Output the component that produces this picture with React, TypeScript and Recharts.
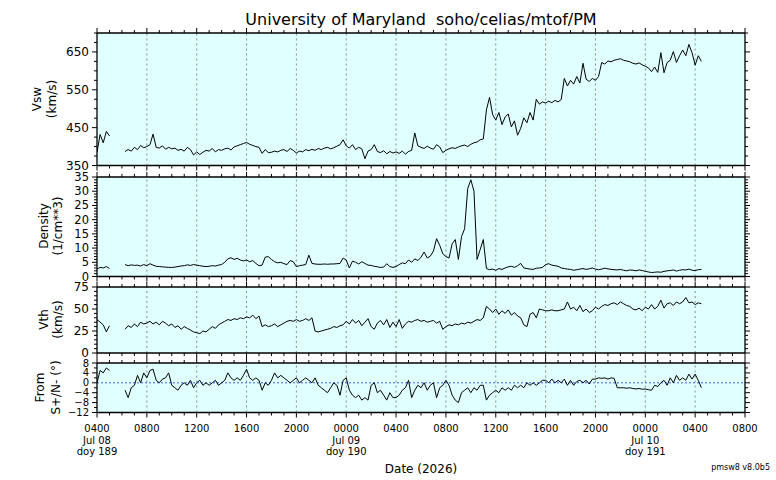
import React from 'react';
import { LineChart, Line, XAxis, YAxis, CartesianGrid, ReferenceLine } from 'recharts';

// Hours since 0400 Jul 08, sampled every 15 minutes (row index * 0.25)
// Each line of the arrays below is one hour (4 samples).

const VSW = [
  385, 432, 410, 440,
  428, null, null, null,
  null, 387, 392, 388,
  398, 392, 403, 397,
  400, 405, 433, 398,
  396, 402, 393, 398,
  394, 396, 390, 393,
  388, 398, 392, 378,
  386, 379, 385, 390,
  388, 395, 386, 392,
  390, 394, 396, 391,
  399, 402, 405, 408,
  411, 406, 403, 400,
  398, 382, 392, 384,
  385, 388, 386, 390,
  392, 387, 395, 390,
  383, 388, 386, 392,
  389, 393, 390, 395,
  392, 396, 398, 394,
  397, 401, 405, 418,
  402, 396, 405, 392,
  398, 394, 368, 388,
  392, 405, 387, 384,
  389, 381, 387, 383,
  386, 382, 388, 380,
  387, 390, 436, 402,
  398, 395, 401, 396,
  393, 405, 399, 384,
  390, 394, 397, 395,
  399, 402, 404, 400,
  406, 410, 412, 418,
  420, 497, 530, 484,
  470, 490, 458, 478,
  486, 452, 468, 430,
  448, 476, 463, 490,
  470, 525, 512, 518,
  515, 520, 516, 522,
  518, 524, 580, 560,
  575, 565, 585, 568,
  620, 578, 572, 580,
  575, 585, 622, 618,
  626, 624, 628, 630,
  632, 628, 626, 624,
  620, 618, 621, 616,
  612, 608, 598, 610,
  596, 648, 595, 622,
  628, 651, 622, 640,
  655, 640, 670, 648,
  615, 640, 625,
];

const DENSITY = [
  2.6, 3.2, 3.0, 3.5,
  2.8, null, null, null,
  null, 4.2, 3.8, 4.1,
  3.9, 4.0, 3.7, 4.2,
  3.8, 4.5, 4.0, 3.6,
  3.5, 3.4, 3.3, 3.2,
  3.2, 3.3, 3.5, 3.7,
  3.8, 4.1, 3.9, 4.2,
  4.0, 3.8, 3.6, 3.5,
  3.6, 3.8, 3.7, 4.0,
  4.2, 5.0, 6.2, 6.6,
  6.0, 6.4, 5.8, 5.5,
  5.8, 5.2, 5.6, 4.6,
  3.8, 4.0, 6.8, 7.0,
  6.0, 5.2, 4.8, 5.0,
  4.5, 4.2, 5.6, 5.2,
  3.5, 3.8, 4.0, 4.2,
  7.5, 4.6, 4.4, 4.3,
  4.3, 4.4, 4.3, 4.4,
  4.4, 4.5, 4.6, 6.5,
  5.8, 3.0, 5.4, 5.0,
  4.4, 5.2, 4.6, 4.0,
  3.9, 3.6, 3.4, 3.2,
  3.3, 4.5, 3.5, 3.2,
  3.5, 4.2, 4.8, 4.5,
  5.8, 5.0, 6.2, 5.6,
  6.8, 8.6, 6.5, 7.2,
  9.0, 13.3, 11.0, 8.0,
  7.0, 6.5, 11.5, 13.0,
  6.0, 14.0, 16.8, 31.0,
  34.0, 30.0, 6.0, 9.5,
  13.0, 2.8, 2.4, 2.6,
  2.2, 2.8, 2.5, 3.0,
  3.4, 3.6, 3.2, 3.8,
  4.6, 3.0, 2.8, 2.6,
  2.5, 2.9, 3.0, 3.2,
  4.2, 4.5, 4.0, 3.8,
  3.6, 3.0, 2.8, 2.6,
  2.5, 2.2, 2.4, 2.6,
  2.8, 2.5, 2.7, 3.0,
  2.6, 2.4, 2.6, 2.9,
  2.7, 2.5, 2.4, 2.3,
  2.5, 2.2, 2.0, 2.3,
  2.2, 2.0, 2.3, 2.1,
  1.8, 1.6, 1.4, 1.5,
  1.6, 1.5, 1.8, 2.0,
  2.1, 2.3, 1.9, 2.2,
  2.4, 2.3, 2.6, 2.2,
  2.1, 2.4, 2.5,
];

const VTH = [
  38, 35, 32, 24,
  31, null, null, null,
  null, 27, 31, 29,
  33, 30, 35, 33,
  34, 36, 33, 35,
  32, 36, 34, 31,
  33, 29, 31, 27,
  30, 28, 26, 24,
  23, 22, 25, 24,
  27, 30, 28, 32,
  34, 36, 38, 37,
  39, 38, 40, 39,
  41, 40, 43, 39,
  42, 30, 32, 30,
  31, 33, 30, 32,
  34, 36, 37, 36,
  38, 36, 37, 39,
  37, 40, 25, 24,
  25, 26, 27, 28,
  30, 29, 31, 32,
  36, 33, 38, 34,
  37, 31, 35, 39,
  30, 27, 34, 37,
  32, 38, 29, 35,
  30, 38, 28, 33,
  36, 35, 37, 38,
  36, 37, 35, 36,
  37, 34, 36, 27,
  30, 32, 31, 33,
  32, 34, 33, 35,
  34, 36, 38, 37,
  40, 53, 50, 46,
  50, 44, 48, 45,
  49, 43, 46, 42,
  40, 32, 30, 44,
  46, 40, 50, 49,
  48, 48, 49, 48,
  48, 49, 50, 58,
  50, 52, 48, 54,
  47, 50, 46, 48,
  52, 50, 53, 55,
  54, 56, 57, 55,
  58, 56, 54, 53,
  50, 49, 51, 48,
  52, 50, 55, 50,
  53, 60, 51, 56,
  57, 54, 58, 56,
  58, 63, 57, 58,
  55, 57, 56,
];

const FROM = [
  0, 5, 4, 6,
  5, null, null, null,
  null, -3, -6, -2,
  -1, 3, 0, 4,
  2, 5, 5.5, 1,
  0, 1.5, 2, 4,
  -1, -2, -3, -1,
  0, -1, 1, -2,
  0, 1, -1, 0,
  -1, 0, 1, -1,
  0, 1, 4, 2,
  1, 2, 1, 3,
  5.5, 2, 1, 2,
  1, -3, 0, -1,
  1, 4, 2, 3,
  2, 1, 0, 1,
  2, 0, 1, 2,
  1, 0, 2, -1,
  -2, -3, -4, -2,
  0, -1, -5, 1,
  2, -3, -5, -6,
  -5, -7, -6, -7,
  -1, 0, -4, -3,
  -5, -7, -4, -6,
  -6, -5, -3, -2,
  1, -6, -3, -1,
  -2, 0, -3, -1,
  0, -6, -2, -1,
  1, -1, -5, -7,
  -8, -4, -3, -2,
  -4, -2, -3, -1,
  -1, -7, -5, -4,
  -3, -4, -2, -3,
  -2, -3, -1, -2,
  -1, -2, 0, -1,
  0, -1, 0, 1,
  1, 0, 1.5, 0,
  1, 0, 1.5, -1,
  1, -1, 0.5, 1,
  0, 1, -0.5, 1.5,
  1.5, 2, 1.8, 2,
  1.5, 2, 1.8, -2,
  -2, -2, -2.2, -2,
  -2.3, -2.5, -2.3, -2.6,
  -2.5, -2.8, -3, -1,
  -1.5, 0, 1, -1,
  2, 0, 3, 1,
  2, 1, 3.5, 1.5,
  3.5, 1, -2,
];

// x axis: hours since 0400 Jul 08
const X_MAJOR = [0, 4, 8, 12, 16, 20, 24, 28, 32, 36, 40, 44, 48, 52];
const X_LABELS = ['0400', '0800', '1200', '1600', '2000', '0000', '0400', '0800', '1200', '1600', '2000', '0000', '0400', '0800'];
const DATE_TICKS = [0, 20, 44];
const DATE_LINES = [['Jul 08', 'doy 189'], ['Jul 09', 'doy 190'], ['Jul 10', 'doy 191']];
const GRID_HOURS = [4, 8, 12, 16, 20, 24, 28, 32, 36, 40, 44, 48];

const ROWS = VSW.map((v, i) => ({
  t: i * 0.25,
  vsw: v,
  dens: DENSITY[i],
  vth: VTH[i],
  from: FROM[i],
}));

const FONT = '"DejaVu Sans", Verdana, sans-serif';
const W = 776;
const LEFT = 97;
const RIGHT = 745;
const PAD = 8;
const BG = '#e0ffff';
const FRAME = { stroke: '#000', strokeWidth: 1.3 };
const HOUR_TICKS = Array.from({ length: 53 }, (_, i) => i);

const steps = (min: number, max: number, step: number) => {
  const out: number[] = [];
  for (let v = min; v <= max + 1e-9; v += step) out.push(v);
  return out;
};

const fmt = (v: number) => (v < 0 ? '\u2212' + Math.abs(v) : String(v));

interface PanelProps {
  dataKey: string;
  top: number;
  height: number;
  domain: [number, number];
  yTicks: number[];
  yLabels: number[];
  labelSize?: number;
  zeroLine?: boolean;
  bottomLabels?: boolean;
}

const Panel: React.FC<PanelProps> = ({ dataKey, top, height, domain, yTicks, yLabels, labelSize = 12, zeroLine, bottomLabels }) => {
  const bottomPad = bottomLabels ? 62 : PAD;

  const xTopTick = (props: any) => {
    const { x, y, payload } = props;
    const len = payload.value % 4 === 0 ? 5 : 3;
    return <line x1={x} x2={x} y1={y} y2={y - len} stroke="#000" strokeWidth={1} />;
  };

  const xBottomTick = (props: any) => {
    const { x, y, payload } = props;
    const major = payload.value % 4 === 0;
    const len = major ? 5 : 3;
    const li = X_MAJOR.indexOf(payload.value);
    const di = DATE_TICKS.indexOf(payload.value);
    return (
      <g>
        <line x1={x} x2={x} y1={y} y2={y + len} stroke="#000" strokeWidth={1} />
        {bottomLabels && li >= 0 && (
          <text x={x} y={y + 16} textAnchor="middle" dominantBaseline="central" fontSize={10} fontFamily={FONT} fill="#000">
            {X_LABELS[li]}
          </text>
        )}
        {bottomLabels && di >= 0 && DATE_LINES[di].map((s, k) => (
          <text key={k} x={x} y={y + 27.5 + k * 11.6} textAnchor="middle" dominantBaseline="central" fontSize={10} fontFamily={FONT} fill="#000">
            {s}
          </text>
        ))}
      </g>
    );
  };

  const yLeftTick = (props: any) => {
    const { x, y, payload } = props;
    const labeled = yLabels.includes(payload.value);
    const len = labeled ? 5 : 3;
    return (
      <g>
        <line x1={x} x2={x - len} y1={y} y2={y} stroke="#000" strokeWidth={1} />
        {labeled && (
          <text x={x - 8} y={y} textAnchor="end" dominantBaseline="central" fontSize={labelSize} fontFamily={FONT} fill="#000">
            {fmt(payload.value)}
          </text>
        )}
      </g>
    );
  };

  const yRightTick = (props: any) => {
    const { x, y, payload } = props;
    const len = yLabels.includes(payload.value) ? 5 : 3;
    return <line x1={x} x2={x + len} y1={y} y2={y} stroke="#000" strokeWidth={1} />;
  };

  return (
    <div style={{ position: 'absolute', left: 0, top: top - PAD }}>
      <LineChart
        width={W}
        height={height + PAD + bottomPad}
        data={ROWS}
        margin={{ top: 0, right: W - RIGHT - 6, bottom: 0, left: LEFT - 60 }}
      >
        <CartesianGrid fill={BG} horizontal={false} vertical={false} stroke="none" />
        <XAxis
          type="number"
          dataKey="t"
          domain={[0, 52]}
          ticks={HOUR_TICKS}
          interval={0}
          height={bottomPad}
          tickSize={0}
          tickMargin={0}
          tickLine={false}
          axisLine={FRAME}
          tick={xBottomTick}
          allowDataOverflow
        />
        <XAxis
          xAxisId="top"
          orientation="top"
          type="number"
          dataKey="t"
          domain={[0, 52]}
          ticks={HOUR_TICKS}
          interval={0}
          height={PAD}
          tickSize={0}
          tickMargin={0}
          tickLine={false}
          axisLine={FRAME}
          tick={xTopTick}
          allowDataOverflow
        />
        <YAxis
          type="number"
          domain={domain}
          ticks={yTicks}
          interval={0}
          width={60}
          tickSize={0}
          tickMargin={0}
          tickLine={false}
          axisLine={FRAME}
          tick={yLeftTick}
          allowDataOverflow
        />
        <YAxis
          yAxisId="right"
          orientation="right"
          type="number"
          domain={domain}
          ticks={yTicks}
          interval={0}
          width={6}
          tickSize={0}
          tickMargin={0}
          tickLine={false}
          axisLine={FRAME}
          tick={yRightTick}
          allowDataOverflow
        />
        {GRID_HOURS.map((h) => (
          <ReferenceLine key={h} x={h} stroke="#808080" strokeDasharray="2 3" strokeWidth={0.9} />
        ))}
        {zeroLine && <ReferenceLine y={0} stroke="#4060e8" strokeDasharray="2 2" strokeWidth={1} />}
        <Line
          type="linear"
          dataKey={dataKey}
          stroke="#000"
          strokeWidth={1}
          dot={false}
          activeDot={false}
          connectNulls={false}
          isAnimationActive={false}
        />
      </LineChart>
    </div>
  );
};

const AxisTitle: React.FC<{ x1: number; x2: number; y: number; lines: string[] }> = ({ x1, x2, y, lines }) => (
  <>
    {lines.map((s, k) => {
      const x = k === 0 ? x1 : x2;
      return (
        <text
          key={k}
          x={x}
          y={y}
          transform={`rotate(-90 ${x} ${y})`}
          textAnchor="middle"
          dominantBaseline="central"
          fontSize={12}
          fontFamily={FONT}
          fill="#000"
        >
          {s}
        </text>
      );
    })}
  </>
);

export default function App() {
  return (
    <div style={{ position: 'absolute', left: 0, top: 0, width: W, height: 480, background: '#fff', fontFamily: FONT }}>
      <Panel dataKey="vsw" top={33} height={132.5} domain={[350, 700]} yTicks={steps(350, 700, 25)} yLabels={[350, 450, 550, 650]} />
      <Panel dataKey="dens" top={176.5} height={99.5} domain={[0, 35]} yTicks={steps(0, 35, 1)} yLabels={[0, 5, 10, 15, 20, 25, 30, 35]} labelSize={11.5} />
      <Panel dataKey="vth" top={286.5} height={66} domain={[0, 75]} yTicks={steps(0, 75, 5)} yLabels={[0, 25, 50, 75]} />
      <Panel dataKey="from" top={363} height={49.5} domain={[-12, 8]} yTicks={steps(-12, 8, 2)} yLabels={[-12, -8, -4, 0, 4, 8]} labelSize={10} zeroLine bottomLabels />
      <svg width={W} height={480} style={{ position: 'absolute', left: 0, top: 0, pointerEvents: 'none' }}>
        <text x={421} y={25} textAnchor="middle" fontSize={16} fontFamily={FONT} fill="#000">
          University of Maryland{'\u00a0\u00a0'}soho/celias/mtof/PM
        </text>
        <AxisTitle x1={37} x2={51.5} y={99} lines={['Vsw', '(km/s)']} />
        <AxisTitle x1={44} x2={58} y={226} lines={['Density', '(1/cm**3)']} />
        <AxisTitle x1={44} x2={58} y={319.5} lines={['Vth', '(km/s)']} />
        <AxisTitle x1={40} x2={56} y={387.5} lines={['From', 'S+/N- (\u00b0)']} />
        <text x={421} y={469} textAnchor="middle" dominantBaseline="central" fontSize={12} fontFamily={FONT} fill="#000">
          Date (2026)
        </text>
        <text x={770} y={467} textAnchor="end" dominantBaseline="central" fontSize={8} fontFamily={FONT} fill="#000">
          pmsw8 v8.0b5
        </text>
      </svg>
    </div>
  );
}
